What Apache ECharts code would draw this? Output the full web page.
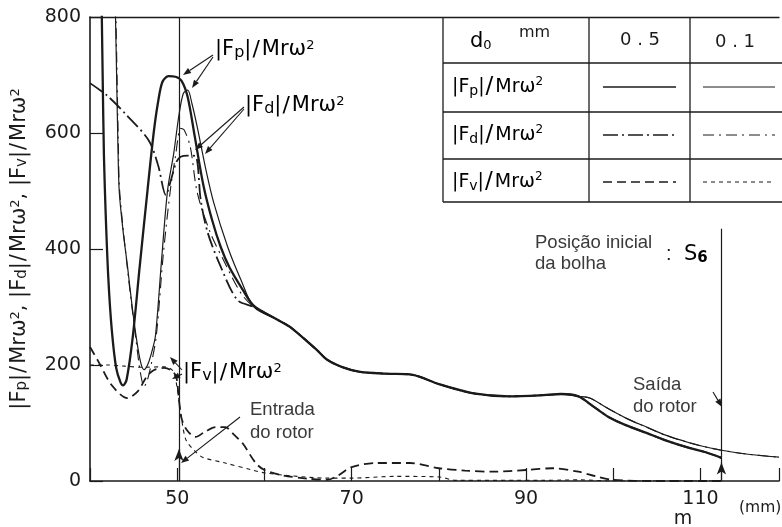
<!DOCTYPE html>
<html><head><meta charset="utf-8">
<script src="https://cdn.jsdelivr.net/npm/echarts/dist/echarts.min.js"></script>
<style>html,body{margin:0;padding:0;background:#fff}#c{width:782px;height:527px}</style>
</head><body><div id="c"></div>
<script>
const INK = '#1b1b1b';
const GREY = '#3a3a3a';

// axis extent (mm) and force ratio range
const xMin = 40, xMax = 119, yMin = 0, yMax = 800;
const xTickLabels = [50, 70, 90, 110];
const yTickLabels = [0, 200, 400, 600, 800];

// rotor entry and bubble start positions (mm)
const entryX = 50.2;
const startX = 112.4;

// |Fp|/Mrω², d0 = 0.5 mm (near the inlet)
const fp05X = [41.3, 41.45, 41.6, 41.8, 42.1, 42.5, 43.0, 43.5, 43.8, 44.2, 44.9, 45.7, 46.6, 47.3, 47.8, 48.3, 49.0, 49.8, 50.5, 51.2, 52.0, 53.0, 54.0, 55.0, 56.0, 57.5, 58.8];
const fp05Y = [860, 700, 560, 460, 350, 260, 195, 170, 165, 175, 248, 370, 502, 600, 653, 688, 698, 697, 690, 662, 595, 510, 450, 403, 368, 330, 302];
// |Fp|/Mrω², d0 = 0.1 mm (near the inlet)
const fp01X = [42.9, 43.05, 43.2, 43.35, 43.8, 44.3, 44.8, 45.3, 45.8, 46.2, 46.6, 47.0, 47.5, 48.2, 48.9, 49.6, 50.2, 50.7, 51.2, 51.7, 52.3, 53.3, 54.2, 55.8, 57.3, 58.8];
const fp01Y = [820, 700, 580, 500, 430, 370, 305, 248, 205, 192, 200, 218, 250, 380, 502, 565, 631, 668, 674, 650, 610, 536, 479, 403, 347, 300];
// |Fd|/Mrω², d0 = 0.5 mm (near the inlet)
const fd05X = [40.0, 42.0, 44.0, 46.7, 47.8, 48.7, 49.3, 49.9, 50.4, 51.2, 52.1, 52.7, 53.5, 55.0, 56.9, 58.8];
const fd05Y = [686, 664, 634, 588, 545, 493, 520, 550, 559, 561, 560, 484, 428, 369, 312, 300];
// |Fd|/Mrω², d0 = 0.1 mm (near the inlet)
const fd01X = [42.95, 43.1, 43.25, 43.4, 44.3, 45.3, 45.8, 46.2, 46.6, 47.0, 47.6, 48.4, 49.2, 49.8, 50.4, 50.8, 51.5, 52.3, 53.8, 55.3, 57.3, 58.8];
const fd01Y = [820, 700, 580, 500, 365, 240, 185, 163, 175, 200, 250, 390, 500, 560, 608, 605, 576, 497, 428, 381, 324, 300];

// common stretch where the Fp and Fd curves coincide
const bandX = [61.5, 63, 66, 67.2, 69, 71, 74, 77, 80, 84, 88, 92, 94, 96];
const bandY = [278, 265, 226, 209, 196, 188, 185, 183, 167, 151, 146, 148, 150, 146];
// outlet stretch, d0 = 0.5 mm
const tail05X = [97.3, 99.5, 101.5, 103.8, 106, 108.7, 110.5, 112.4];
const tail05Y = [133, 110, 96, 83, 70, 57, 50, 40];
// outlet stretch, d0 = 0.1 mm
const tail01X = [97.3, 99.5, 101.5, 103.8, 106, 108.7, 110.5, 112.4, 115, 119];
const tail01Y = [143, 124, 108, 93, 79, 66, 59, 53, 47, 41];

// |Fv|/Mrω², d0 = 0.5 mm
const fv05X = [40, 41, 42.5, 44.3, 45.5, 46.5, 47.3, 48.5, 49.4, 49.9, 50.2, 50.5, 51.1, 52.1, 53.2, 54.4, 55.5, 56.5, 57.5, 59, 60, 62, 65, 67.2, 68.5, 70, 72.9, 76.7, 80, 83, 86.2, 90, 93, 96, 98, 99.9, 105, 112.4];
const fv05Y = [231, 205, 165, 143, 155, 180, 191, 195, 190, 179, 140, 108, 88, 76, 85, 93, 93, 80, 65, 31, 19, 10, 4, 2, 10, 24, 31, 31, 22, 18, 16, 19, 22, 16, 8, 2, 0, 0];
// |Fv|/Mrω², d0 = 0.1 mm
const fv01X = [40, 42, 44, 46, 48.5, 49.5, 50, 50.4, 51, 52, 52.9, 55.5, 58.6, 60, 63, 67, 70, 75, 80, 82, 92, 96, 100, 112.4];
const fv01Y = [200, 200, 198, 196, 197, 190, 160, 117, 71, 52, 41, 31, 19, 14, 9, 5, 5, 8, 7, 1, 1, 2, 0, 0];

function pts(xs, ys) { return xs.map((x, i) => [x, ys[i]]); }

// dash patterns for each curve style
const DASH_DOT = [15, 4, 2, 4];
const DASH_DOT_THIN = [11, 5, 2, 5];
const DASH_LONG = [9, 5];
const DASH_SHORT = [4, 4];

function curve(name, data, width, type) {
  return {
    name, type: 'line', data, symbol: 'none', showSymbol: false,
    smooth: 0.3, clip: true, silent: true,
    lineStyle: { color: INK, width, type }
  };
}

function richSet(big, sub, sup, slash) {
  return {
    n: { fontSize: big, fontFamily: 'DejaVu Sans', color: INK },
    sl: { fontSize: slash || big, fontFamily: 'DejaVu Sans', color: INK, padding: [0, 2, 0, 1] },
    s: { fontSize: sub, fontFamily: 'DejaVu Sans', color: INK, verticalAlign: 'bottom' },
    p: { fontSize: sup, fontFamily: 'DejaVu Sans', color: INK, verticalAlign: 'top' }
  };
}
const rich = richSet(21, 16, 13, 22);
const richKey = richSet(19, 14, 12, 23);
const richAxis = richSet(21, 15, 13, 21);
function fText(sub) { return '{n||F}{s|' + sub + '}{n||}{sl|/}{n|Mrω}{p|2}'; }

function txt(x, y, text, opts) {
  return Object.assign({ type: 'text', x, y, silent: true, style: Object.assign({
    text, fill: GREY, fontSize: 18.5, fontFamily: 'Liberation Sans',
    align: 'left', verticalAlign: 'middle', textAlign: 'left', textVerticalAlign: 'middle'
  }, opts || {}) });
}
function seg(x1, y1, x2, y2, w, dash) {
  return { type: 'line', silent: true, shape: { x1, y1, x2, y2 },
    style: { stroke: INK, lineWidth: w || 1, lineDash: dash || null } };
}
function arrow(x1, y1, x2, y2) {
  const a = Math.atan2(y2 - y1, x2 - x1), h = 8, w = 3;
  const bx = x2 - h * Math.cos(a), by = y2 - h * Math.sin(a);
  return [
    seg(x1, y1, bx, by, 1.1),
    { type: 'polygon', silent: true, shape: { points: [[x2, y2],
      [bx + w * Math.sin(a), by - w * Math.cos(a)], [bx - w * Math.sin(a), by + w * Math.cos(a)]] },
      style: { fill: INK } }
  ];
}
function label(x, y, sub, r) {
  return { type: 'text', x, y, silent: true, z: 10,
    style: { text: fText(sub), rich: r, verticalAlign: 'middle', textVerticalAlign: 'middle' } };
}

// key table in the upper right corner
const T = { x0: 443, c1: 589, c2: 690, x1: 790, rows: [17, 63, 112, 159, 202] };
const table = [];
T.rows.slice(1).forEach(r => table.push(seg(T.x0, r, T.x1, r, 1.3)));
[T.x0, T.c1, T.c2].forEach(c => table.push(seg(c, T.rows[0], c, T.rows[4], 1.3)));
table.push({ type: 'text', x: 470, y: 42, silent: true, style: {
  text: '{d|d}{z|0}', rich: { d: { fontSize: 21, fontFamily: 'DejaVu Sans', color: INK },
  z: { fontSize: 13, fontFamily: 'DejaVu Sans', color: INK, verticalAlign: 'bottom' } },
  verticalAlign: 'middle', textVerticalAlign: 'middle' } });
table.push(txt(519, 33, 'mm', { fill: INK, fontSize: 16, fontFamily: 'DejaVu Sans' }));
table.push(txt(640, 40, '0 . 5', { fill: INK, fontSize: 18, fontFamily: 'DejaVu Sans', align: 'center', textAlign: 'center' }));
table.push(txt(735, 42, '0 . 1', { fill: INK, fontSize: 18, fontFamily: 'DejaVu Sans', align: 'center', textAlign: 'center' }));
const rowY = [87, 135, 182];
['p', 'd', 'v'].forEach((s, i) => table.push(label(452, rowY[i], s, richKey)));
const keyStyles = [[1.6, null, 1.0, null], [1.6, DASH_DOT, 1.0, DASH_DOT_THIN], [1.6, DASH_LONG, 1.0, DASH_SHORT]];
keyStyles.forEach((k, i) => {
  table.push(seg(603, rowY[i], 676, rowY[i], k[0], k[1]));
  table.push(seg(703, rowY[i], 775, rowY[i], k[2], k[3]));
});

// curve names, pointers and position notes
const notes = [
  label(215, 50, 'p', rich),
  label(245, 106, 'd', rich),
  label(183, 373, 'v', rich),
  ...arrow(213, 55, 183, 75), ...arrow(213, 57, 192, 88),
  ...arrow(244, 107, 195, 150), ...arrow(244, 109, 205, 154),
  ...arrow(182, 370, 170, 357), ...arrow(182, 374, 172, 379),
  ...arrow(240, 417, 181, 463),
  ...arrow(713, 392, 722, 407),
  txt(250, 410, 'Entrada'), txt(250, 433, 'do rotor'),
  txt(535, 243, 'Posição inicial'), txt(535, 264, 'da bolha'),
  txt(666, 254, ':', { fill: INK, fontSize: 20 }),
  { type: 'text', x: 684, y: 255, silent: true, style: {
    text: '{s|S}{k|6}', rich: { s: { fontSize: 21, fontFamily: 'DejaVu Sans', color: INK },
    k: { fontSize: 15, fontWeight: 'bold', fontFamily: 'DejaVu Sans', color: INK, verticalAlign: 'bottom' } },
    verticalAlign: 'middle', textVerticalAlign: 'middle' } },
  txt(633, 385, 'Saída'), txt(633, 407, 'do rotor'),
  txt(683, 519, 'm', { fill: INK, fontSize: 19, fontFamily: 'DejaVu Sans', align: 'center', textAlign: 'center' }),
  txt(739, 508, '(mm)', { fill: INK, fontSize: 15.5, fontFamily: 'DejaVu Sans' })
];

const chart = echarts.init(document.getElementById('c'), null, { renderer: 'canvas' });
chart.setOption({
  animation: false,
  backgroundColor: '#fff',
  grid: { left: 90, right: 1, top: 17, bottom: 46, containLabel: false },
  xAxis: [{
    type: 'value', min: xMin, max: xMax, interval: 10,
    axisLine: { lineStyle: { color: INK, width: 1.6 } },
    axisTick: { inside: true, length: 13, lineStyle: { color: INK, width: 1.2 } },
    axisLabel: { margin: 9, fontSize: 19, fontFamily: 'DejaVu Sans', color: INK,
      formatter: v => xTickLabels.includes(v) ? String(v) : '' },
    splitLine: { show: false }
  }, {
    type: 'value', position: 'top', min: xMin, max: xMax,
    axisLine: { show: true, lineStyle: { color: INK, width: 1.4 } },
    axisTick: { show: false }, axisLabel: { show: false }, splitLine: { show: false }
  }],
  yAxis: {
    type: 'value', min: yMin, max: yMax, interval: 200,
    axisLine: { show: true, lineStyle: { color: INK, width: 1.6 } },
    axisTick: { show: true, inside: true, length: 13, lineStyle: { color: INK, width: 1.2 } },
    axisLabel: { margin: 9, fontSize: 19, fontFamily: 'DejaVu Sans', color: INK,
      formatter: v => yTickLabels.includes(v) ? String(v) : '' },
    splitLine: { show: false },
    name: fText('p') + '{n|, }' + fText('d') + '{n|, }' + fText('v'),
    nameLocation: 'middle', nameRotate: 90, nameGap: 60,
    nameTextStyle: { rich: richAxis }
  },
  series: [
    Object.assign(curve('Fp 0.5', pts(fp05X.concat(bandX, tail05X), fp05Y.concat(bandY, tail05Y)), 2.3, 'solid'), {
      markLine: {
        silent: true, symbol: ['none', 'none'], label: { show: false }, animation: false,
        lineStyle: { color: INK, width: 1.2, type: 'solid' },
        data: [
          [{ coord: [entryX, 0] }, { coord: [entryX, 800] }],
          [{ coord: [entryX, 0] }, { coord: [entryX, 55], symbol: 'arrow', symbolSize: [7, 12] }],
          [{ coord: [startX, 0] }, { coord: [startX, 435] }],
          [{ coord: [startX, 0] }, { coord: [startX, 32], symbol: 'arrow', symbolSize: [7, 12] }]
        ]
      }
    }),
    curve('Fp 0.1', pts(fp01X.concat(bandX, tail01X), fp01Y.concat(bandY, tail01Y)), 1.2, 'solid'),
    curve('Fd 0.5', pts(fd05X.concat(bandX, tail05X), fd05Y.concat(bandY, tail05Y)), 1.8, DASH_DOT),
    curve('Fd 0.1', pts(fd01X.concat(bandX, tail01X), fd01Y.concat(bandY, tail01Y)), 1.1, DASH_DOT_THIN),
    curve('Fv 0.5', pts(fv05X, fv05Y), 1.8, DASH_LONG),
    curve('Fv 0.1', pts(fv01X, fv01Y), 1.1, DASH_SHORT)
  ],
  graphic: table.concat(notes)
});
</script></body></html>
